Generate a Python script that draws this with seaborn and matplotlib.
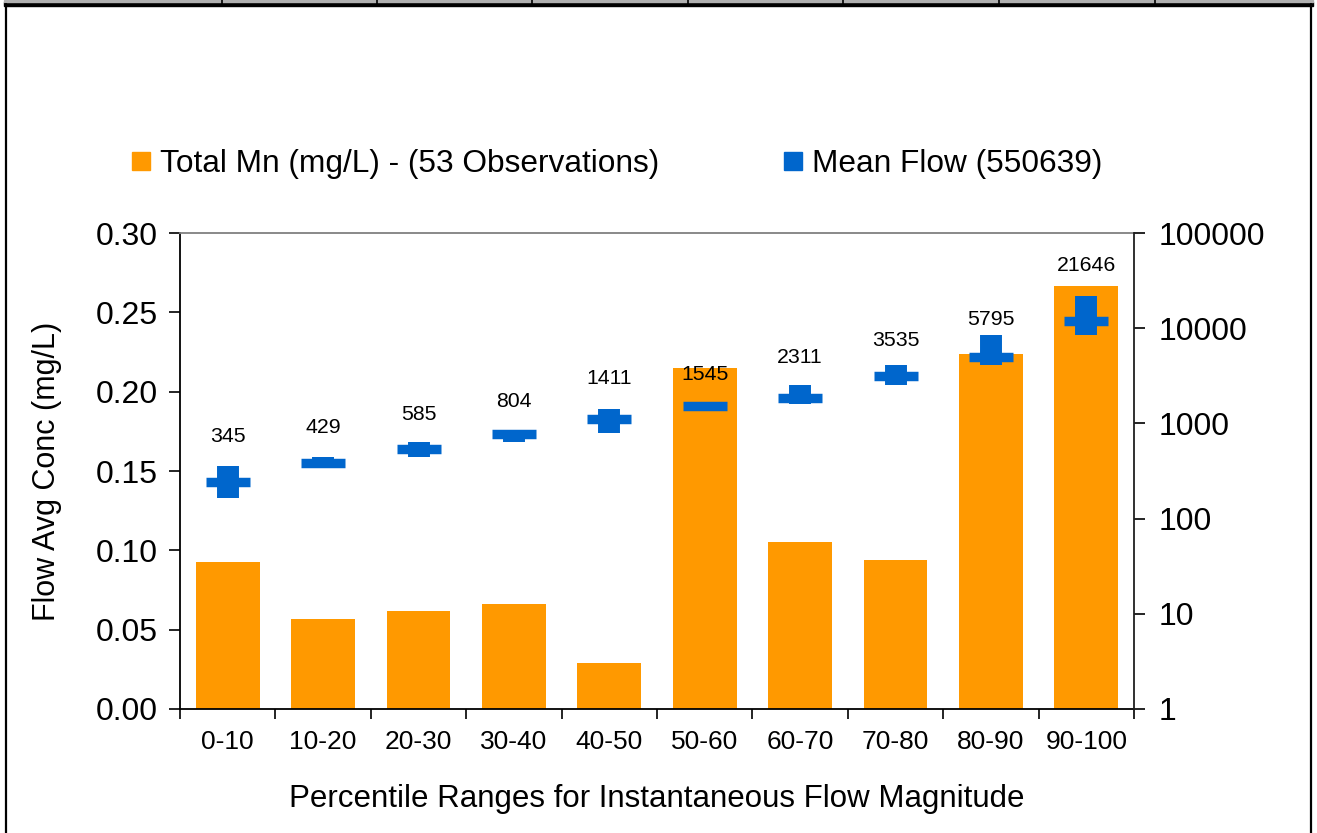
import numpy as np
import pandas as pd
import matplotlib
matplotlib.use("Agg")
import matplotlib.pyplot as plt
from matplotlib.lines import Line2D
from matplotlib.patches import Rectangle
from matplotlib.ticker import FixedLocator, NullLocator, FuncFormatter
import seaborn as sns

# ---- data -------------------------------------------------------------
categories = ["0-10", "10-20", "20-30", "30-40", "40-50",
              "50-60", "60-70", "70-80", "80-90", "90-100"]
mn_conc = [0.0926, 0.0567, 0.0618, 0.0662, 0.0292,
           0.2149, 0.1053, 0.0939, 0.2237, 0.2667]
flow_label = [345, 429, 585, 804, 1411, 1545, 2311, 3535, 5795, 21646]
flow_mean = [243, 388, 532, 774, 1112, 1524, 1862, 3185, 5020, 11900]
flow_low = [165, 348, 441, 640, 800, 1417, 1600, 2550, 4065, 8500]
flow_high = [353, 441, 640, 800, 1417, 1600, 2550, 4065, 8500, 21800]

conc_ticks = [0.00, 0.05, 0.10, 0.15, 0.20, 0.25, 0.30]
flow_ticks = [1, 10, 100, 1000, 10000, 100000]

legend_conc = "Total Mn (mg/L) - (53 Observations)"
legend_flow = "Mean Flow (550639)"
ylabel_left = "Flow Avg Conc (mg/L)"
xlabel = "Percentile Ranges for Instantaneous Flow Magnitude"

ORANGE = "#FF9900"
BLUE = "#0066CC"

sns.set_theme(style="white")
plt.rcParams["font.family"] = ["Liberation Sans", "DejaVu Sans"]
plt.rcParams.update({"text.color": "black", "axes.labelcolor": "black",
                     "xtick.color": "black", "ytick.color": "black"})

W, H = 1317, 833
fig = plt.figure(figsize=(W / 100, H / 100), dpi=100)
ax = fig.add_axes([180 / W, 1 - 709 / H, (1134 - 180) / W, (709 - 233) / H])

df = pd.DataFrame({"range": categories, "conc": mn_conc})
sns.barplot(data=df, x="range", y="conc", color=ORANGE, saturation=1,
            width=0.67, ax=ax, zorder=2)
for p in ax.patches:
    p.set_edgecolor("none")

ax.set_xlim(-0.5, len(categories) - 0.5)
ax.set_ylim(0, 0.30)
ax.yaxis.set_major_locator(FixedLocator(conc_ticks))
ax.yaxis.set_major_formatter(FuncFormatter(lambda v, _: f"{v:.2f}"))
ax.set_xticks(range(len(categories)))
ax.set_xticklabels(categories)
ax.set_xticks(np.arange(-0.5, len(categories), 1), minor=True)
ax.tick_params(axis="x", which="major", length=0, pad=15, labelsize=19)
ax.tick_params(axis="x", which="minor", length=7, width=1.2, color="black",
               direction="out", bottom=True)
ax.tick_params(axis="y", which="major", length=8, width=1.2, color="black",
               direction="out", left=True, labelsize=23, pad=8)
ax.set_xlabel(xlabel, fontsize=22.5, labelpad=22)
ax.set_ylabel(ylabel_left, fontsize=22, labelpad=24)

for side in ("left", "bottom"):
    ax.spines[side].set_color("black")
    ax.spines[side].set_linewidth(1.3)
ax.spines["top"].set_color("#808080")
ax.spines["top"].set_linewidth(1.3)
ax.spines["right"].set_visible(False)

# ---- flow axis (log) ----------------------------------------------------
ax2 = ax.twinx()
ax2.set_yscale("log")
ax2.set_ylim(1, 100000)
ax2.yaxis.set_major_locator(FixedLocator(flow_ticks))
ax2.yaxis.set_minor_locator(NullLocator())
ax2.yaxis.set_major_formatter(FuncFormatter(lambda v, _: f"{int(round(v))}"))
ax2.tick_params(axis="y", which="major", length=8, width=1.2, color="black",
                direction="out", right=True, labelsize=23, pad=10)
ax2.grid(False)
for side in ("left", "top", "bottom"):
    ax2.spines[side].set_visible(False)
ax2.spines["right"].set_color("#202020")
ax2.spines["right"].set_linewidth(1.3)

xpos = np.arange(len(categories))
vl = ax2.vlines(xpos, flow_low, flow_high, colors=BLUE, linewidth=15.8, zorder=3)
vl.set_capstyle("butt")
ax2.plot(xpos, flow_mean, ls="none", marker="_", color=BLUE,
         markersize=31, markeredgewidth=6.8, zorder=4)
for x, v in zip(xpos, flow_label):
    ax2.annotate(f"{v}", xy=(x, v), xytext=(0, 31), textcoords="offset pixels",
                 ha="center", va="center", fontsize=15.3, color="black", zorder=5)

# ---- legend -------------------------------------------------------------
handles = [
    Line2D([], [], ls="none", marker="s", color=ORANGE, markersize=13.5),
    Line2D([], [], ls="none", marker="s", color=BLUE, markersize=13.5),
]
fig.legend(handles, [legend_conc, legend_flow], ncol=2, loc="center",
           bbox_to_anchor=(617 / W, 1 - 164 / H), frameon=False, fontsize=22.8,
           handlelength=0.6, handletextpad=0.3, columnspacing=3.9)

# ---- outer frame ----------------------------------------------------------
fig.add_artist(Line2D([6 / W, 6 / W], [0, 1 - 4 / H], color="black", lw=1.6))
fig.add_artist(Line2D([1311 / W, 1311 / W], [0, 1 - 4 / H], color="black", lw=1.6))
fig.add_artist(Rectangle((4 / W, 1 - 6 / H), 1309 / W, 4 / H, color="black",
                         transform=fig.transFigure))
fig.add_artist(Rectangle((4 / W, 1 - 2 / H), 1309 / W, 2 / H, color="#b0b0b0",
                         transform=fig.transFigure))
for xd in [222, 377, 532, 688, 843, 999, 1155]:
    fig.add_artist(Line2D([xd / W, xd / W], [1 - 6 / H, 1], color="black", lw=1.2))

fig.savefig("out.png", dpi=100)
